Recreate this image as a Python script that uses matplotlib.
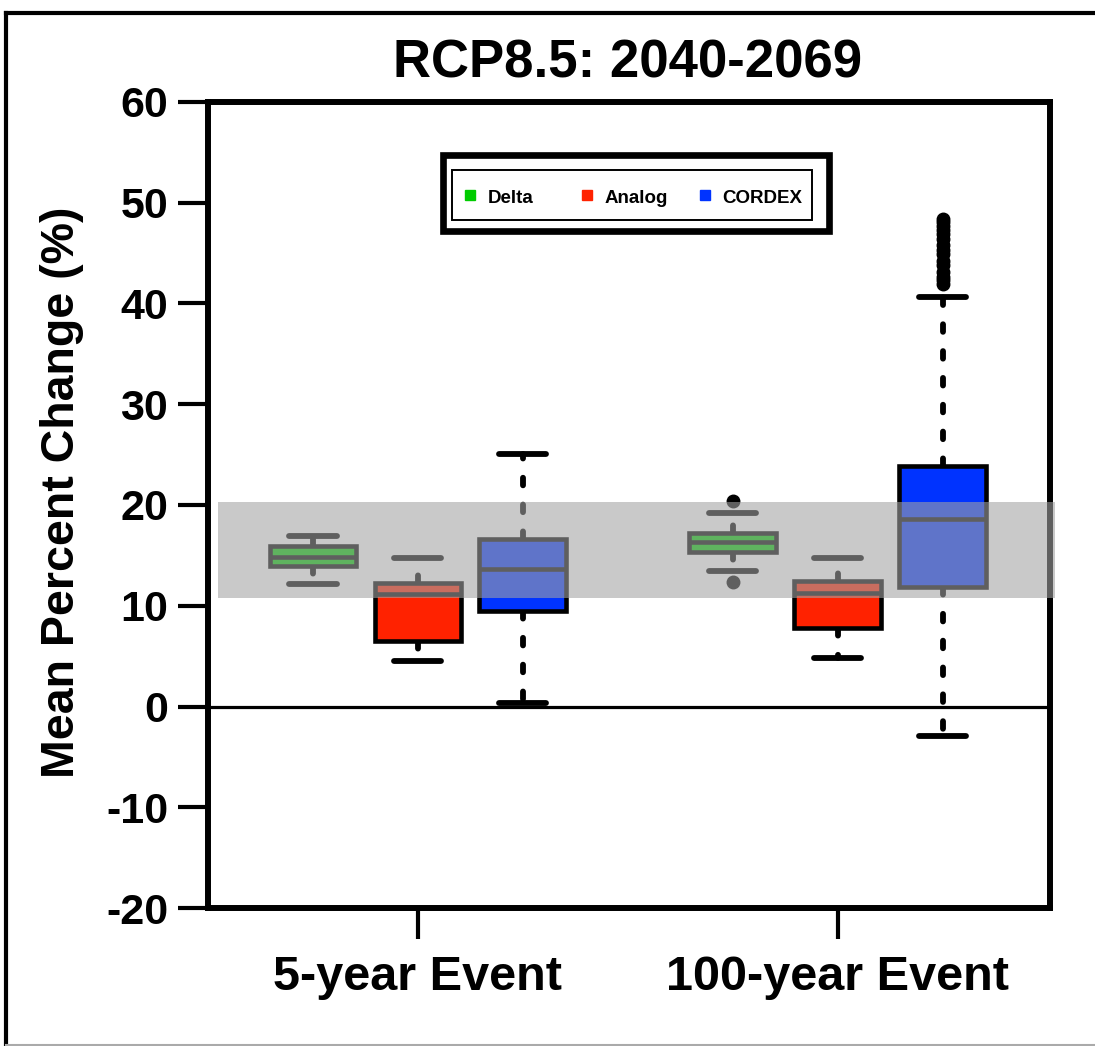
import matplotlib
matplotlib.use("Agg")
import matplotlib.pyplot as plt
from matplotlib.patches import Rectangle
from matplotlib.lines import Line2D

plt.rcParams['font.family'] = ['Liberation Sans', 'DejaVu Sans']
plt.rcParams['font.weight'] = 'bold'

# ---------------- data ----------------
categories = ["5-year Event", "100-year Event"]
series = ["Delta", "Analog", "CORDEX"]
colors = ["#00cc00", "#ff2200", "#0033ff"]

# stats per series: [5-year, 100-year]
whislo = {"Delta": [12.16, 13.45], "Analog": [4.55, 4.85], "CORDEX": [0.35, -2.93]}
q1 = {"Delta": [13.95, 15.37], "Analog": [6.50, 7.76], "CORDEX": [9.50, 11.90]}
med = {"Delta": [14.84, 16.33], "Analog": [11.15, 11.30], "CORDEX": [13.60, 18.58]}
q3 = {"Delta": [15.93, 17.25], "Analog": [12.29, 12.49], "CORDEX": [16.60, 23.87]}
whishi = {"Delta": [16.92, 19.24], "Analog": [14.72, 14.77], "CORDEX": [25.10, 40.68]}
fliers = {
    "Delta": [[], [12.39, 20.40]],
    "Analog": [[], []],
    "CORDEX": [[], [41.9, 42.3, 42.6, 43.1, 43.8, 44.2, 44.9, 45.3, 45.8,
                    46.4, 46.9, 47.3, 47.7, 48.1, 48.4]],
}
band_low, band_high = 10.74, 20.27
yticks = [-20, -10, 0, 10, 20, 30, 40, 50, 60]

# ---------------- figure ----------------
W, H = 1095, 1046
fig = plt.figure(figsize=(W / 100, H / 100), dpi=100)
ax = fig.add_axes([208 / W, (H - 908) / H, (1050 - 208) / W, (908 - 102) / H])

offsets = [-0.25, 0.0, 0.25]
box_w = 0.207
cap_w = 0.112

for si, s in enumerate(series):
    stats = []
    pos = []
    for ci in range(len(categories)):
        stats.append(dict(whislo=whislo[s][ci], q1=q1[s][ci], med=med[s][ci],
                          q3=q3[s][ci], whishi=whishi[s][ci], fliers=fliers[s][ci]))
        pos.append(ci + offsets[si])
    art = ax.bxp(stats, positions=pos, widths=box_w, capwidths=cap_w,
                 patch_artist=True, showfliers=True,
                 boxprops=dict(facecolor=colors[si], edgecolor="black", linewidth=3.3),
                 medianprops=dict(color="black", linewidth=3.3),
                 whiskerprops=dict(color="black", linewidth=4.2,
                                   linestyle=(0, (1.3, 3.3)), dash_capstyle="round"),
                 capprops=dict(color="black", linewidth=4.2, solid_capstyle="round"),
                 flierprops=dict(marker="o", markerfacecolor="black",
                                 markeredgecolor="black", markersize=9))
    for b in art["boxes"]:
        b.set_zorder(3)
    for m in art["medians"]:
        m.set_zorder(4)

ax.axhline(0, color="black", linewidth=2.3, zorder=2)

ax.axhspan(band_low, band_high, xmin=0.0119, xmax=1.006, color="#a3a3a3",
           alpha=0.59, zorder=6, clip_on=False, linewidth=0)

ax.set_xlim(-0.5, 1.505)
ax.set_ylim(-20, 60)
ax.set_yticks(yticks)
ax.set_yticklabels([str(v) for v in yticks])
ax.set_xticks(range(len(categories)))
ax.set_xticklabels(categories)

for sp in ax.spines.values():
    sp.set_linewidth(4.3)
    sp.set_color("black")
ax.tick_params(axis="y", direction="out", length=21.6, width=3, pad=7,
               labelsize=31)
ax.tick_params(axis="x", direction="out", length=22, width=3, pad=12,
               labelsize=35)
for lab in ax.get_xticklabels() + ax.get_yticklabels():
    lab.set_fontweight("bold")

# legend (manual, boxed)
def ax_x(px):
    return (px - 208) / 842

def ax_y(py):
    return (908 - py) / 806

ax.add_patch(Rectangle((ax_x(443), ax_y(231)), 386 / 842, 76 / 806,
                       transform=ax.transAxes, fill=True, facecolor="white",
                       edgecolor="black", linewidth=4.8, zorder=8))
ax.add_patch(Rectangle((ax_x(452), ax_y(220)), 360 / 842, 50 / 806,
                       transform=ax.transAxes, fill=False,
                       edgecolor="black", linewidth=1.4, zorder=9))
marker_px = [470, 587, 705]
text_px = [488, 605, 722]
for s, c, mx, tx in zip(series, colors, marker_px, text_px):
    ax.add_line(Line2D([ax_x(mx)], [ax_y(195)], transform=ax.transAxes,
                       marker="s", markersize=6.5, color=c, linestyle="none",
                       zorder=10))
    ax.text(ax_x(tx), ax_y(203), s, transform=ax.transAxes, fontsize=13.5,
            fontweight="bold", va="baseline", ha="left", zorder=10)

# titles
fig.text(628 / W, 1 - 78 / H, "RCP8.5: 2040-2069", ha="center", va="baseline",
         fontsize=38, fontweight="bold")
fig.text(62 / W, 1 - 492 / H, "Mean Percent Change (%)", rotation=90,
         ha="center", va="center", fontsize=33.5, fontweight="bold")

# outer frame
fig.add_artist(Line2D([6 / W, 1.0], [1 - 13 / H, 1 - 13 / H],
                      transform=fig.transFigure, color="black", linewidth=3))
fig.add_artist(Line2D([6 / W, 6 / W], [0, 1 - 13 / H],
                      transform=fig.transFigure, color="black", linewidth=3))
fig.add_artist(Line2D([6 / W, 1.0], [1.5 / H, 1.5 / H],
                      transform=fig.transFigure, color="#aaaaaa", linewidth=1.5))

fig.savefig("out.png", dpi=100)
